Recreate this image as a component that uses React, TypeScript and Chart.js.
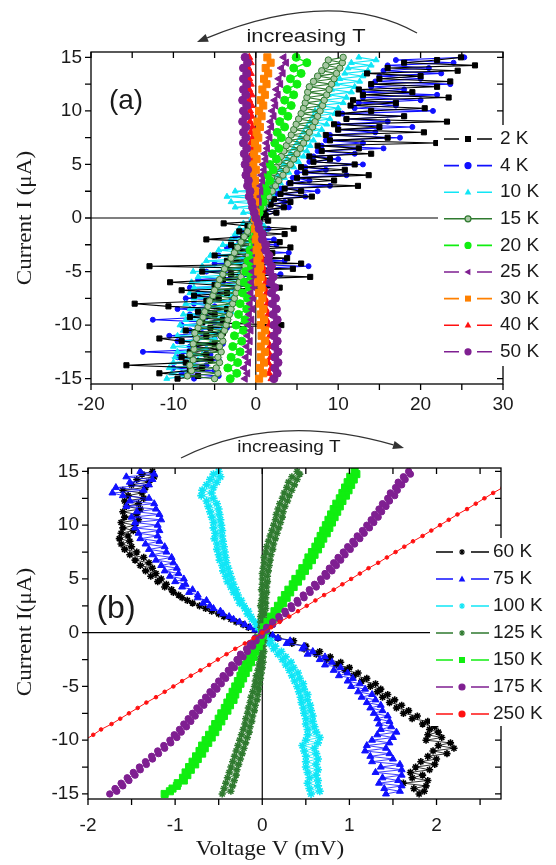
import React, { useEffect, useRef } from 'react';
import { Chart, registerables } from 'chart.js';
Chart.register(...registerables);

// ---------- data ----------
const currents = [-15, -14.5, -14, -13.5, -13, -12.5, -12, -11.5, -11, -10.5, -10, -9.5, -9, -8.5, -8, -7.5, -7, -6.5, -6, -5.5, -5, -4.5, -4, -3.5, -3, -2.5, -2, -1.5, -1, -0.5, 0, 0.5, 1, 1.5, 2, 2.5, 3, 3.5, 4, 4.5, 5, 5.5, 6, 6.5, 7, 7.5, 8, 8.5, 9, 9.5, 10, 10.5, 11, 11.5, 12, 12.5, 13, 13.5, 14, 14.5, 15];
const currentsFine = [-15, -14.75, -14.5, -14.25, -14, -13.75, -13.5, -13.25, -13, -12.75, -12.5, -12.25, -12, -11.75, -11.5, -11.25, -11, -10.75, -10.5, -10.25, -10, -9.75, -9.5, -9.25, -9, -8.75, -8.5, -8.25, -8, -7.75, -7.5, -7.25, -7, -6.75, -6.5, -6.25, -6, -5.75, -5.5, -5.25, -5, -4.75, -4.5, -4.25, -4, -3.75, -3.5, -3.25, -3, -2.75, -2.5, -2.25, -2, -1.75, -1.5, -1.25, -1, -0.75, -0.5, -0.25, 0, 0.25, 0.5, 0.75, 1, 1.25, 1.5, 1.75, 2, 2.25, 2.5, 2.75, 3, 3.25, 3.5, 3.75, 4, 4.25, 4.5, 4.75, 5, 5.25, 5.5, 5.75, 6, 6.25, 6.5, 6.75, 7, 7.25, 7.5, 7.75, 8, 8.25, 8.5, 8.75, 9, 9.25, 9.5, 9.75, 10, 10.25, 10.5, 10.75, 11, 11.25, 11.5, 11.75, 12, 12.25, 12.5, 12.75, 13, 13.25, 13.5, 13.75, 14, 14.25, 14.5, 14.75, 15];

// panel (a) voltages (fine sampling: 2 K, 4 K, 10 K, 15 K)
const A_2K = [
  -9.5, -7, -11.7, -8, -6.5, -15.7, -8.5, -5.5, -9, -6, -8, -4.5, -7.5, -5, -9, -11.7,
  -6, -4, -8.5, -5.5, 3.1, -6.5, -4, -8, -5, -7, -3.5, -10.6, -14.7, -6, -4.5, -7.5,
  -3.5, -9, 2.9, -5, -10.4, -4, 6.6, -3, -6.5, 4.5, -12.9, 5.5, -3.5, 3.8, -5, 2,
  -2.5, 4.2, -3, 2.9, -6, -1.5, 3.5, -2, 4.6, -1, -3.9, 1.5,
  0.5,
  1.2, 2.5, 1.0, 3.4, 1.8, 4.2, 2.2, 6.8, 3.0, 5.5, 3.5, 12.4, 4.2, 9.5, 5, 13.7,
  6, 10.8, 5.5, 12, 7, 9, 6.5, 14, 8, 12.5, 7.5, 21.9, 9, 16, 8.5, 20.4,
  10, 15, 9.5, 23.2, 11, 18, 10, 14, 20.5, 11.5, 17, 11.8, 23.4, 13, 19, 12.5,
  22, 14, 23.6, 15, 20, 13.5, 24.5, 16, 26.6, 18, 22, 24.9];
const A_4K = [
  -7.5, -4.5, -9, -5, -10, -6, -8.5, -4.5, -9.5, -5.5, -13.7, -6, -8, -4, -9.5, -5,
  -10.5, -6.5, -8, -3.5, -9, -5, -12.5, -6, -8, -3.5, -9.5, -5, -7.5, -3, -8.5, -4.5,
  -7, -2.5, -8, 1.5, -4, -7, -2, 3, -6, -1.5, 6.4, -5, 3.5, -1.5, -4.5, 4,
  -1, -3.5, 2.5, -2, 2.2, -2.5, 1, -1.5, 1.5, -1, 0.5, -0.5,
  0.2,
  0.8, 2.5, 1.2, 4, 1.6, 3.5, 2, 6, 2.5, 7.5, 3, 9, 4, 6.5, 4.5, 11,
  5, 8.5, 6, 13, 6.5, 10, 7, 12, 7.5, 15.5, 8, 13, 8.5, 17.5, 9, 14.5,
  10, 19, 10, 16, 11, 18, 10.5, 21.5, 12, 17, 12.5, 20, 13, 22, 13, 18,
  14, 23.6, 14.5, 20, 15, 22.5, 15.5, 21, 16, 24, 17, 25.3];
const A_10K = [
  -10.8, -8.5, -10.2, -8, -10.5, -7.5, -10, -7, -9.8, -6.5, -9.5, -6, -10, -5.5, -9, -5,
  -9.5, -4.5, -8.8, -4, -9.2, -3.5, -8.5, -4, -8.8, -3, -8, -3.5, -8.5, -2.5, -7.5, -3,
  -8, -2.5, -7.5, -2, -7.8, -1.5, -7, -2, -7.6, -1, -6.5, -1.5, -6, -0.5, -5.5, -1,
  -4.5, 0, -4, -0.5, -3, 0.5, -2.5, 1, -2, 1, -1.5, 0.5,
  -0.5,
  0.5, -1.5, 1, -2.5, 1.2, -3, 1.5, -3.5, 2, -2.5, 2.5, 1.8, 3, 2.2, 3.5, 2.6,
  4, 3, 4.6, 3.4, 5.2, 3.8, 5.8, 4.2, 6.2, 4.6, 6.6, 5, 7, 5.4, 7.6, 5.8,
  8, 6.2, 8.6, 6.6, 9, 7, 9.6, 7.2, 10, 7.8, 10.6, 8.2, 11, 8.8, 11.6, 9.2,
  12, 9.8, 12.6, 10.2, 13, 10.8, 13.6, 11.2, 14, 11.6, 14.6, 12.5];
const A_15K = [
  -5, -8.3, -4.6, -7.8, -4.8, -8, -4.4, -7.6, -4.6, -8, -4.2, -7.5, -4.4, -7.6, -4, -7.2,
  -4.2, -7.4, -3.8, -7, -3.6, -6.8, -3.4, -6.4, -3.2, -6.2, -3, -5.8, -2.8, -5.6, -2.6, -5.2,
  -2.4, -5, -2.2, -4.6, -2, -4.4, -1.8, -4, -1.5, -3.8, -1.3, -3.4, -1.1, -3, -0.9, -2.6,
  -0.7, -2.2, -0.5, -1.8, -0.4, -1.4, -0.3, -1, -0.2, -0.6, -0.1, -0.3,
  0,
  0.1, 0.5, 0.3, 0.9, 0.5, 1.2, 0.8, 1.6, 1, 2, 1.3, 2.4, 1.6, 2.8, 1.9, 3.3,
  2.2, 3.7, 2.5, 4.2, 2.8, 4.6, 3.1, 5, 3.4, 5.4, 3.7, 5.8, 4, 6.2, 4.3, 6.5,
  4.6, 6.9, 4.9, 7.2, 5.2, 7.5, 5.5, 7.8, 5.8, 8.1, 6, 8.3, 6.2, 8.6, 6.3, 8.9,
  6.5, 9.2, 7, 9.5, 7.5, 9.8, 8, 10.2, 8.5, 10.5, 8.8, 10.6];
// panel (a) voltages (coarse sampling)
const A_20K = [-3.1, -2.3, -3.4, -2.2, -3, -1.9, -2.8, -1.7, -2.6, -1.5, -2.4, -1.3, -2.1, -1.1, -1.9, -1, -1.6, -0.8, -1.4, -0.6, -1.2, -0.5, -0.9, -0.3, -0.7, -0.1, -0.4, 0, -0.2, 0.2, 0.1, 0.4, 0.5, 0.9, 0.8, 1.3, 1.1, 1.7, 1.4, 2.1, 1.7, 2.5, 2, 2.8, 2.3, 3.1, 2.6, 3.5, 2.9, 3.9, 3.2, 4.3, 3.5, 4.6, 3.8, 5, 4.2, 5.5, 4.6, 6.2, 4.9];
const A_25K = [-1.3, -1, -1.4, -0.9, -1.2, -0.8, -1.1, -0.7, -1, -0.6, -0.9, -0.5, -0.8, -0.4, -0.7, -0.3, -0.6, -0.2, -0.5, -0.1, -0.4, 0, -0.3, 0.1, -0.2, 0.1, -0.1, 0.2, 0, 0.1, 0, 0.2, 0.1, 0.4, 0.3, 0.6, 0.5, 0.8, 0.7, 1, 0.9, 1.2, 1.1, 1.4, 1.3, 1.7, 1.5, 1.9, 1.8, 2.2, 2, 2.4, 2.3, 2.7, 2.5, 3, 2.8, 3.3, 3.1, 3.7, 3.4];
const A_30K = [0.4, 0.9, 0.5, 1, 0.6, 1.1, 0.6, 1.1, 0.7, 1.1, 0.6, 1, 0.6, 0.9, 0.5, 0.8, 0.4, 0.7, 0.3, 0.6, 0.3, 0.5, 0.2, 0.4, 0.1, 0.3, 0, 0.2, -0.1, 0.1, -0.1, 0, -0.3, -0.1, -0.4, -0.1, -0.4, -0.1, -0.4, 0, -0.3, 0.1, -0.2, 0.2, -0.1, 0.3, 0.1, 0.5, 0.2, 0.7, 0.4, 0.9, 0.6, 1.1, 0.8, 1.3, 1, 1.5, 1.2, 1.8, 1.4];
const A_40K = [1.9, 1.6, 1.9, 1.5, 1.8, 1.5, 1.7, 1.4, 1.7, 1.3, 1.6, 1.3, 1.5, 1.2, 1.4, 1.1, 1.3, 1, 1.2, 0.9, 1.1, 0.8, 0.9, 0.6, 0.7, 0.4, 0.5, 0.2, 0.3, 0.1, 0, -0.1, -0.2, -0.1, -0.3, -0.2, -0.4, -0.2, -0.4, -0.3, -0.5, -0.3, -0.5, -0.4, -0.6, -0.4, -0.6, -0.4, -0.7, -0.5, -0.7, -0.5, -0.8, -0.5, -0.8, -0.6, -0.8, -0.6, -0.9, -0.6, -0.8];
const A_50K = [2.2, 2.6, 2.3, 2.7, 2.3, 2.7, 2.3, 2.6, 2.2, 2.6, 2.2, 2.6, 2.1, 2.5, 2, 2.4, 1.9, 2.3, 1.8, 2.1, 1.7, 1.9, 1.5, 1.6, 1.2, 1.2, 0.8, 0.8, 0.4, 0.3, 0, -0.2, -0.4, -0.5, -0.8, -0.7, -1, -0.9, -1.2, -1, -1.3, -1.1, -1.4, -1.1, -1.5, -1.2, -1.5, -1.2, -1.6, -1.2, -1.5, -1.1, -1.6, -1.2, -1.5, -1.1, -1.5, -1.1, -1.5, -1, -1.3];

// panel (b) voltages (fine sampling except 250 K)
const B_60K = [
  1.8, 1.86, 1.74, 1.88, 1.62, 1.9, 1.72, 1.84, 1.7, 1.92, 1.76, 1.98, 1.82, 2.0, 1.9, 2.12,
  1.96, 2.2, 2.02, 2.16, 1.88, 2.06, 1.9, 2.02, 1.92, 1.98, 1.84, 1.9, 1.72, 1.78, 1.62, 1.68,
  1.54, 1.6, 1.46, 1.52, 1.38, 1.44, 1.32, 1.36, 1.24, 1.3, 1.14, 1.2, 1.05, 1.1, 0.95, 1.0,
  0.85, 0.9, 0.74, 0.78, 0.62, 0.66, 0.48, 0.5, 0.34, 0.36, 0.18, 0.1,
  0,
  -0.08, -0.16, -0.22, -0.3, -0.36, -0.44, -0.5, -0.58, -0.65, -0.72, -0.8, -0.86, -0.92, -0.96, -1.02, -1.04,
  -1.12, -1.1, -1.2, -1.16, -1.28, -1.22, -1.34, -1.26, -1.4, -1.3, -1.46, -1.36, -1.52, -1.44, -1.58, -1.5,
  -1.62, -1.52, -1.64, -1.54, -1.62, -1.48, -1.6, -1.46, -1.62, -1.42, -1.58, -1.44, -1.6, -1.4, -1.56, -1.42,
  -1.58, -1.36, -1.54, -1.38, -1.6, -1.34, -1.5, -1.3, -1.44, -1.24, -1.38, -1.26];
const B_75K = [
  1.42, 1.58, 1.4, 1.6, 1.34, 1.56, 1.38, 1.6, 1.3, 1.6, 1.36, 1.58, 1.26, 1.5, 1.24, 1.46,
  1.18, 1.42, 1.2, 1.46, 1.26, 1.5, 1.32, 1.54, 1.36, 1.48, 1.34, 1.46, 1.32, 1.44, 1.28, 1.38,
  1.24, 1.36, 1.2, 1.3, 1.14, 1.26, 1.1, 1.18, 1.02, 1.12, 0.98, 1.04, 0.88, 0.98, 0.82, 0.9,
  0.72, 0.8, 0.66, 0.72, 0.52, 0.58, 0.46, 0.48, 0.28, 0.32, 0.18, 0.12,
  0,
  -0.08, -0.14, -0.2, -0.26, -0.33, -0.38, -0.45, -0.48, -0.56, -0.6, -0.68, -0.64, -0.74, -0.74, -0.84, -0.8,
  -0.92, -0.88, -1.0, -0.9, -1.06, -0.96, -1.12, -0.98, -1.16, -1.02, -1.22, -1.04, -1.26, -1.1, -1.3, -1.12,
  -1.34, -1.18, -1.4, -1.2, -1.42, -1.18, -1.46, -1.2, -1.46, -1.16, -1.5, -1.18, -1.44, -1.22, -1.56, -1.24,
  -1.52, -1.3, -1.6, -1.72, -1.36, -1.68, -1.3, -1.52, -1.26, -1.56, -1.24, -1.4];
const B_100K = [
  0.56, 0.66, 0.54, 0.64, 0.52, 0.64, 0.54, 0.62, 0.52, 0.64, 0.5, 0.62, 0.5, 0.64, 0.5, 0.62,
  0.48, 0.6, 0.46, 0.64, 0.5, 0.66, 0.52, 0.62, 0.52, 0.6, 0.5, 0.58, 0.5, 0.58, 0.48, 0.56,
  0.47, 0.55, 0.45, 0.52, 0.44, 0.52, 0.42, 0.48, 0.4, 0.47, 0.37, 0.43, 0.34, 0.41, 0.31, 0.36,
  0.27, 0.33, 0.23, 0.27, 0.18, 0.22, 0.13, 0.15, 0.08, 0.1, 0.04, 0.03,
  0,
  -0.02, -0.05, -0.07, -0.08, -0.12, -0.13, -0.17, -0.16, -0.2, -0.21, -0.26, -0.24, -0.29, -0.28, -0.33, -0.3,
  -0.36, -0.33, -0.4, -0.35, -0.42, -0.37, -0.45, -0.39, -0.46, -0.41, -0.49, -0.42, -0.5, -0.43, -0.52, -0.44,
  -0.52, -0.45, -0.55, -0.46, -0.54, -0.46, -0.56, -0.47, -0.56, -0.48, -0.58, -0.49, -0.6, -0.5, -0.62, -0.52,
  -0.64, -0.56, -0.7, -0.58, -0.69, -0.56, -0.64, -0.52, -0.6, -0.48, -0.56, -0.5];
const B_125K = [
  -0.46, -0.36, -0.44, -0.34, -0.42, -0.32, -0.4, -0.3, -0.38, -0.29, -0.36, -0.27, -0.34, -0.25, -0.32, -0.23,
  -0.3, -0.21, -0.28, -0.19, -0.26, -0.17, -0.24, -0.15, -0.22, -0.14, -0.2, -0.12, -0.19, -0.11, -0.17, -0.09,
  -0.16, -0.08, -0.14, -0.06, -0.13, -0.05, -0.11, -0.04, -0.09, -0.03, -0.08, -0.02, -0.07, -0.01, -0.05, 0,
  -0.04, 0.01, -0.03, 0.01, -0.02, 0.02, -0.02, 0.01, -0.02, 0.02, -0.01, 0.01,
  0,
  0.02, -0.02, 0.02, -0.02, 0.03, -0.02, 0.03, -0.01, 0.04, -0.02, 0.04, -0.01, 0.04, 0, 0.05,
  -0.01, 0.05, 0, 0.06, 0, 0.06, 0, 0.07, 0.01, 0.08, 0.02, 0.09, 0.02, 0.1, 0.04, 0.12,
  0.05, 0.13, 0.07, 0.15, 0.09, 0.17, 0.11, 0.19, 0.13, 0.21, 0.15, 0.23, 0.16, 0.24, 0.18, 0.26,
  0.2, 0.29, 0.23, 0.31, 0.25, 0.34, 0.28, 0.37, 0.3, 0.4, 0.34, 0.43, 0.4];
const B_150K = [
  -1.12, -1.06, -1.03, -0.98, -0.97, -0.9, -0.91, -0.86, -0.88, -0.82, -0.84, -0.77, -0.8, -0.74, -0.76, -0.69,
  -0.72, -0.66, -0.69, -0.62, -0.65, -0.58, -0.61, -0.54, -0.57, -0.51, -0.54, -0.47, -0.5, -0.44, -0.47, -0.4,
  -0.43, -0.37, -0.4, -0.33, -0.37, -0.31, -0.34, -0.28, -0.31, -0.25, -0.28, -0.22, -0.25, -0.19, -0.23, -0.16,
  -0.2, -0.13, -0.17, -0.1, -0.14, -0.08, -0.11, -0.04, -0.08, -0.02, -0.05, 0.01,
  0,
  0.04, 0.02, 0.08, 0.06, 0.12, 0.1, 0.16, 0.14, 0.2, 0.18, 0.24, 0.22, 0.28, 0.26, 0.32,
  0.3, 0.36, 0.35, 0.41, 0.38, 0.45, 0.43, 0.49, 0.46, 0.53, 0.51, 0.57, 0.53, 0.6, 0.57, 0.64,
  0.61, 0.67, 0.64, 0.7, 0.67, 0.74, 0.7, 0.77, 0.73, 0.8, 0.76, 0.83, 0.79, 0.86, 0.82, 0.89,
  0.85, 0.92, 0.89, 0.96, 0.92, 0.99, 0.95, 1.02, 0.98, 1.05, 1.01, 1.08, 1.06];
const B_175K = [
  -1.75, -1.67, -1.69, -1.6, -1.62, -1.53, -1.55, -1.46, -1.48, -1.4, -1.41, -1.33, -1.34, -1.26, -1.27, -1.19,
  -1.2, -1.12, -1.13, -1.05, -1.06, -0.98, -1.01, -0.93, -0.95, -0.87, -0.9, -0.82, -0.85, -0.77, -0.8, -0.72,
  -0.75, -0.67, -0.7, -0.62, -0.65, -0.57, -0.6, -0.52, -0.55, -0.47, -0.5, -0.42, -0.45, -0.37, -0.39, -0.32,
  -0.35, -0.27, -0.29, -0.22, -0.25, -0.17, -0.18, -0.11, -0.14, -0.07, -0.08, -0.01,
  0,
  0.05, 0.05, 0.12, 0.12, 0.2, 0.19, 0.27, 0.26, 0.34, 0.33, 0.41, 0.4, 0.48, 0.47, 0.55,
  0.54, 0.62, 0.6, 0.68, 0.67, 0.74, 0.72, 0.8, 0.77, 0.85, 0.82, 0.9, 0.87, 0.95, 0.93, 1.01,
  0.98, 1.06, 1.04, 1.12, 1.09, 1.17, 1.15, 1.23, 1.2, 1.28, 1.25, 1.33, 1.29, 1.37, 1.34, 1.42,
  1.38, 1.46, 1.44, 1.52, 1.47, 1.55, 1.53, 1.6, 1.56, 1.64, 1.62, 1.7, 1.68];
const B_250K = [-3.06, -2.96, -2.86, -2.76, -2.65, -2.55, -2.45, -2.35, -2.24, -2.14, -2.04, -1.94, -1.85, -1.73, -1.63, -1.53, -1.43, -1.33, -1.22, -1.12, -1.02, -0.92, -0.82, -0.71, -0.61, -0.51, -0.41, -0.31, -0.2, -0.1, 0, 0.1, 0.2, 0.31, 0.41, 0.51, 0.61, 0.71, 0.82, 0.92, 1.02, 1.12, 1.22, 1.33, 1.43, 1.53, 1.63, 1.73, 1.84, 1.94, 2.04, 2.14, 2.24, 2.35, 2.45, 2.55, 2.65, 2.76, 2.86, 2.96, 3.06];

// ticks
const xTicksA = [-20, -10, 0, 10, 20, 30];
const xMarksA = [-20, -15, -10, -5, 0, 5, 10, 15, 20, 25, 30];
const yTicks = [-15, -10, -5, 0, 5, 10, 15];
const yMarks = [-15, -12.5, -10, -7.5, -5, -2.5, 0, 2.5, 5, 7.5, 10, 12.5, 15];
const xTicksB = [-2, -1, 0, 1, 2];
const xMarksB = [-2, -1.5, -1, -0.5, 0, 0.5, 1, 1.5, 2, 2.5];

const legendA = ['2 K', '4 K', '10 K', '15 K', '20 K', '25 K', '30 K', '40 K', '50 K'];
const legendB = ['60 K', '75 K', '100 K', '125 K', '150 K', '175 K', '250 K'];

// ---------- styles ----------
const PURPLE = '#7f1f91';
const stylesA: Record<string, any> = {
  '2 K': { data: A_2K, cur: currentsFine, color: '#000000', fill: '#000000', shape: 'rect', r: 3.6, lw: 1.1 },
  '4 K': { data: A_4K, cur: currentsFine, color: '#1010ff', fill: '#1010ff', shape: 'circle', r: 2.5, lw: 1.1 },
  '10 K': { data: A_10K, cur: currentsFine, color: '#10e6f6', fill: '#10e6f6', shape: 'triangle', r: 3.4, lw: 1.1 },
  '15 K': { data: A_15K, cur: currentsFine, color: '#2f7a2f', fill: '#a8c8a4', shape: 'circle', r: 3.2, lw: 1.1, solid: true },
  '20 K': { data: A_20K, cur: currents, color: '#10ee10', fill: '#10ee10', shape: 'circle', r: 4, lw: 1.4 },
  '25 K': { data: A_25K, cur: currents, color: PURPLE, fill: PURPLE, shape: 'triangle', rot: -90, r: 4.2, lw: 1.4 },
  '30 K': { data: A_30K, cur: currents, color: '#ff8000', fill: '#ff8000', shape: 'rect', r: 5, lw: 1.4 },
  '40 K': { data: A_40K, cur: currents, color: '#ff1010', fill: '#ff1010', shape: 'triangle', r: 4, lw: 1.4 },
  '50 K': { data: A_50K, cur: currents, color: PURPLE, fill: PURPLE, shape: 'circle', r: 4, lw: 1.4 },
};
const drawOrderA = ['50 K', '30 K', '40 K', '25 K', '20 K', '15 K', '2 K', '10 K', '4 K'];

const stylesB: Record<string, any> = {
  '60 K': { data: B_60K, cur: currentsFine, color: '#000000', fill: '#000000', shape: 'star', r: 3.6, lw: 0.8 },
  '75 K': { data: B_75K, cur: currentsFine, color: '#1010ff', fill: '#1010ff', shape: 'triangle', r: 4, lw: 0.8 },
  '100 K': { data: B_100K, cur: currentsFine, color: '#10e6f6', fill: '#10e6f6', shape: 'star', r: 4, lw: 0.8 },
  '125 K': { data: B_125K, cur: currentsFine, color: '#2f7a2f', fill: '#2f7a2f', shape: 'star', r: 3.6, lw: 0.8 },
  '150 K': { data: B_150K, cur: currentsFine, color: '#10ee10', fill: '#10ee10', shape: 'rect', r: 5, lw: 0.8 },
  '175 K': { data: B_175K, cur: currentsFine, color: PURPLE, fill: PURPLE, shape: 'circle', r: 3.2, lw: 0.8 },
  '250 K': { data: B_250K, cur: currents, color: '#ff1010', fill: '#ff1010', shape: 'circle', r: 1.8, lw: 1 },
};
const drawOrderB = ['250 K', '175 K', '150 K', '125 K', '100 K', '75 K', '60 K'];

// ---------- helpers ----------
function buildDatasets(order: string[], styles: Record<string, any>) {
  return order.map((k) => {
    const s = styles[k];
    return {
      label: k,
      data: s.data.map((v: number, i: number) => ({ x: v, y: s.cur[i] })),
      showLine: true,
      borderColor: s.color,
      borderWidth: s.lw,
      tension: 0,
      pointStyle: s.shape,
      pointRotation: s.rot || 0,
      pointRadius: s.r,
      pointBackgroundColor: s.fill,
      pointBorderColor: s.color,
      pointBorderWidth: s.shape === 'star' ? 1.6 : 1,
    };
  });
}

function drawMarker(ctx: CanvasRenderingContext2D, s: any, x: number, y: number, r: number) {
  ctx.save();
  ctx.fillStyle = s.fill;
  ctx.strokeStyle = s.color;
  ctx.lineWidth = 1.2;
  ctx.beginPath();
  if (s.shape === 'rect') {
    ctx.rect(x - r, y - r, 2 * r, 2 * r);
    ctx.fill();
  } else if (s.shape === 'triangle') {
    ctx.translate(x, y);
    ctx.rotate(((s.rot || 0) * Math.PI) / 180);
    ctx.moveTo(0, -r * 1.2);
    ctx.lineTo(r * 1.1, r * 0.8);
    ctx.lineTo(-r * 1.1, r * 0.8);
    ctx.closePath();
    ctx.fill();
  } else if (s.shape === 'star') {
    ctx.moveTo(x - r, y); ctx.lineTo(x + r, y);
    ctx.moveTo(x, y - r); ctx.lineTo(x, y + r);
    ctx.moveTo(x - r * 0.7, y - r * 0.7); ctx.lineTo(x + r * 0.7, y + r * 0.7);
    ctx.moveTo(x - r * 0.7, y + r * 0.7); ctx.lineTo(x + r * 0.7, y - r * 0.7);
    ctx.stroke();
  } else {
    ctx.arc(x, y, r, 0, Math.PI * 2);
    ctx.fill();
    ctx.stroke();
  }
  ctx.restore();
}

function text(ctx: CanvasRenderingContext2D, str: string, x: number, y: number, font: string, sx = 1, rot = 0, align: CanvasTextAlign = 'center') {
  ctx.save();
  ctx.translate(x, y);
  if (rot) ctx.rotate(rot);
  ctx.scale(sx, 1);
  ctx.font = font;
  ctx.fillStyle = '#1a1a1a';
  ctx.textAlign = align;
  ctx.textBaseline = 'middle';
  ctx.fillText(str, 0, 0);
  ctx.restore();
}

function arcArrow(ctx: CanvasRenderingContext2D, p0: number[], c: number[], p2: number[]) {
  ctx.save();
  ctx.strokeStyle = '#333';
  ctx.fillStyle = '#333';
  ctx.lineWidth = 1.3;
  const ang = Math.atan2(p2[1] - c[1], p2[0] - c[0]);
  const len = 11, w = 4.2;
  const bx = p2[0] - len * Math.cos(ang), by = p2[1] - len * Math.sin(ang);
  ctx.beginPath();
  ctx.moveTo(p0[0], p0[1]);
  ctx.quadraticCurveTo(c[0], c[1], bx, by);
  ctx.stroke();
  ctx.beginPath();
  ctx.moveTo(p2[0], p2[1]);
  ctx.lineTo(bx + w * Math.sin(ang), by - w * Math.cos(ang));
  ctx.lineTo(bx - w * Math.sin(ang), by + w * Math.cos(ang));
  ctx.closePath();
  ctx.fill();
  ctx.restore();
}

function makeDecor(cfg: any) {
  return {
    id: 'decor',
    beforeDatasetsDraw(chart: any) {
      const { ctx, chartArea: a, scales } = chart;
      const x0 = scales.x.getPixelForValue(0), y0 = scales.y.getPixelForValue(0);
      ctx.save();
      ctx.strokeStyle = '#000';
      ctx.lineWidth = 1.2;
      ctx.beginPath();
      ctx.moveTo(x0, a.top); ctx.lineTo(x0, a.bottom);
      ctx.moveTo(a.left, y0); ctx.lineTo(a.right, y0);
      ctx.stroke();
      ctx.restore();
    },
    afterDatasetsDraw(chart: any) {
      const { ctx, chartArea: a, scales } = chart;
      const L = 6;
      ctx.save();
      ctx.strokeStyle = '#000';
      ctx.lineWidth = 1.3;
      ctx.strokeRect(a.left, a.top, a.right - a.left, a.bottom - a.top);
      ctx.beginPath();
      for (const v of cfg.xMarks) {
        const px = scales.x.getPixelForValue(v);
        ctx.moveTo(px, a.bottom); ctx.lineTo(px, a.bottom + L);
        ctx.moveTo(px, a.top); ctx.lineTo(px, a.top + L);
      }
      for (const v of cfg.yMarks) {
        const py = scales.y.getPixelForValue(v);
        ctx.moveTo(a.left, py); ctx.lineTo(a.left - L, py);
        ctx.moveTo(a.right, py); ctx.lineTo(a.right - L, py);
      }
      ctx.stroke();
      ctx.restore();

      // legend
      const lg = cfg.legend;
      ctx.save();
      ctx.fillStyle = '#fff';
      ctx.fillRect(lg.box[0], lg.box[1], lg.box[2], lg.box[3]);
      lg.items.forEach((name: string, i: number) => {
        const s = cfg.styles[name];
        const y = lg.y0 + i * lg.dy;
        ctx.save();
        ctx.strokeStyle = s.color;
        ctx.lineWidth = 1.6;
        ctx.beginPath();
        if (s.solid) {
          ctx.moveTo(lg.x0, y); ctx.lineTo(lg.x1, y);
        } else {
          ctx.moveTo(lg.x0, y); ctx.lineTo(lg.mx - 9, y);
          ctx.moveTo(lg.mx + 9, y); ctx.lineTo(lg.x1, y);
        }
        ctx.stroke();
        ctx.restore();
        drawMarker(ctx, s, lg.mx, y, 3);
        text(ctx, name, lg.tx, y, '19px "Liberation Sans", Arial, sans-serif', 1, 0, 'left');
      });
      ctx.restore();

      // annotations
      const an = cfg.annot;
      arcArrow(ctx, an.p0, an.c, an.p2);
      text(ctx, 'increasing T', an.tx, an.ty, an.font, 1.15);
      text(ctx, cfg.panel.label, cfg.panel.x, cfg.panel.y, cfg.panel.font);
      text(ctx, cfg.yTitle.text, cfg.yTitle.x, cfg.yTitle.y, '22px "Liberation Serif", "Times New Roman", serif', 1.05, -Math.PI / 2);
      if (cfg.xTitle) text(ctx, cfg.xTitle.text, cfg.xTitle.x, cfg.xTitle.y, '22px "Liberation Serif", "Times New Roman", serif', 1.05);
    },
  };
}

function axisOpts(min: number, max: number, ticks: number[], padding: number, fit: (s: any) => void) {
  return {
    type: 'linear',
    min,
    max,
    afterBuildTicks: (s: any) => { s.ticks = ticks.map((v) => ({ value: v })); },
    afterFit: fit,
    grid: { display: false, drawTicks: false },
    border: { display: false },
    ticks: {
      padding,
      autoSkip: false,
      maxRotation: 0,
      color: '#1a1a1a',
      font: { family: '"Liberation Sans", Arial, sans-serif', size: 19 },
      callback: (v: any) => String(v),
    },
  };
}

function configA(): any {
  return {
    type: 'scatter',
    data: { datasets: buildDatasets(drawOrderA, stylesA) },
    options: {
      responsive: false,
      animation: false,
      layout: { padding: { left: 0, right: 53, top: 52, bottom: 0 } },
      plugins: { legend: { display: false }, tooltip: { enabled: false } },
      scales: {
        x: axisOpts(-20, 30, xTicksA, 9, (s: any) => { s.height = 36; }),
        y: axisOpts(-15.5, 15.5, yTicks, 9, (s: any) => { s.width = 91; }),
      },
    },
    plugins: [makeDecor({
      xMarks: xMarksA, yMarks,
      styles: stylesA,
      legend: { items: legendA, box: [438, 125, 118, 241], x0: 444, x1: 492, mx: 468, tx: 500, y0: 139, dy: 26.6 },
      annot: { p0: [417, 33], c: [333, -13.5], p2: [197, 42], tx: 306, ty: 37, font: '19px "Liberation Sans", Arial, sans-serif' },
      panel: { label: '(a)', x: 126, y: 101, font: '28px "Liberation Sans", Arial, sans-serif' },
      yTitle: { text: 'Current I (\u03bcA)', x: 25, y: 218 },
    })],
  };
}

function configB(): any {
  return {
    type: 'scatter',
    data: { datasets: buildDatasets(drawOrderB, stylesB) },
    options: {
      responsive: false,
      animation: false,
      layout: { padding: { left: 0, right: 55, top: 48, bottom: 0 } },
      plugins: { legend: { display: false }, tooltip: { enabled: false } },
      scales: {
        x: axisOpts(-2, 2.74, xTicksB, 15, (s: any) => { s.height = 66; }),
        y: axisOpts(-15.47, 15.32, yTicks, 9, (s: any) => { s.width = 88; }),
      },
    },
    plugins: [makeDecor({
      xMarks: xMarksB, yMarks,
      styles: stylesB,
      legend: { items: legendB, box: [430, 118, 126, 188], x0: 436, x1: 489, mx: 462, tx: 493, y0: 132, dy: 27 },
      annot: { p0: [181, 38], c: [275.5, -9], p2: [404, 28], tx: 289, ty: 27, font: '16.5px "Liberation Sans", Arial, sans-serif' },
      panel: { label: '(b)', x: 116, y: 189, font: '32px "Liberation Sans", Arial, sans-serif' },
      yTitle: { text: 'Current I(\u03bcA)', x: 25, y: 212 },
      xTitle: { text: 'Voltage V (mV)', x: 270, y: 429 },
    })],
  };
}

export default function App() {
  const refA = useRef<HTMLCanvasElement>(null);
  const refB = useRef<HTMLCanvasElement>(null);
  useEffect(() => {
    const ca = new Chart(refA.current as HTMLCanvasElement, configA());
    const cb = new Chart(refB.current as HTMLCanvasElement, configB());
    return () => { ca.destroy(); cb.destroy(); };
  }, []);
  return (
    <div style={{ position: 'absolute', left: 0, top: 0, width: 556, height: 865, background: '#fff' }}>
      <canvas ref={refA} width={556} height={420} style={{ position: 'absolute', left: 0, top: 0, width: 556, height: 420 }} />
      <canvas ref={refB} width={556} height={445} style={{ position: 'absolute', left: 0, top: 420, width: 556, height: 445 }} />
    </div>
  );
}
